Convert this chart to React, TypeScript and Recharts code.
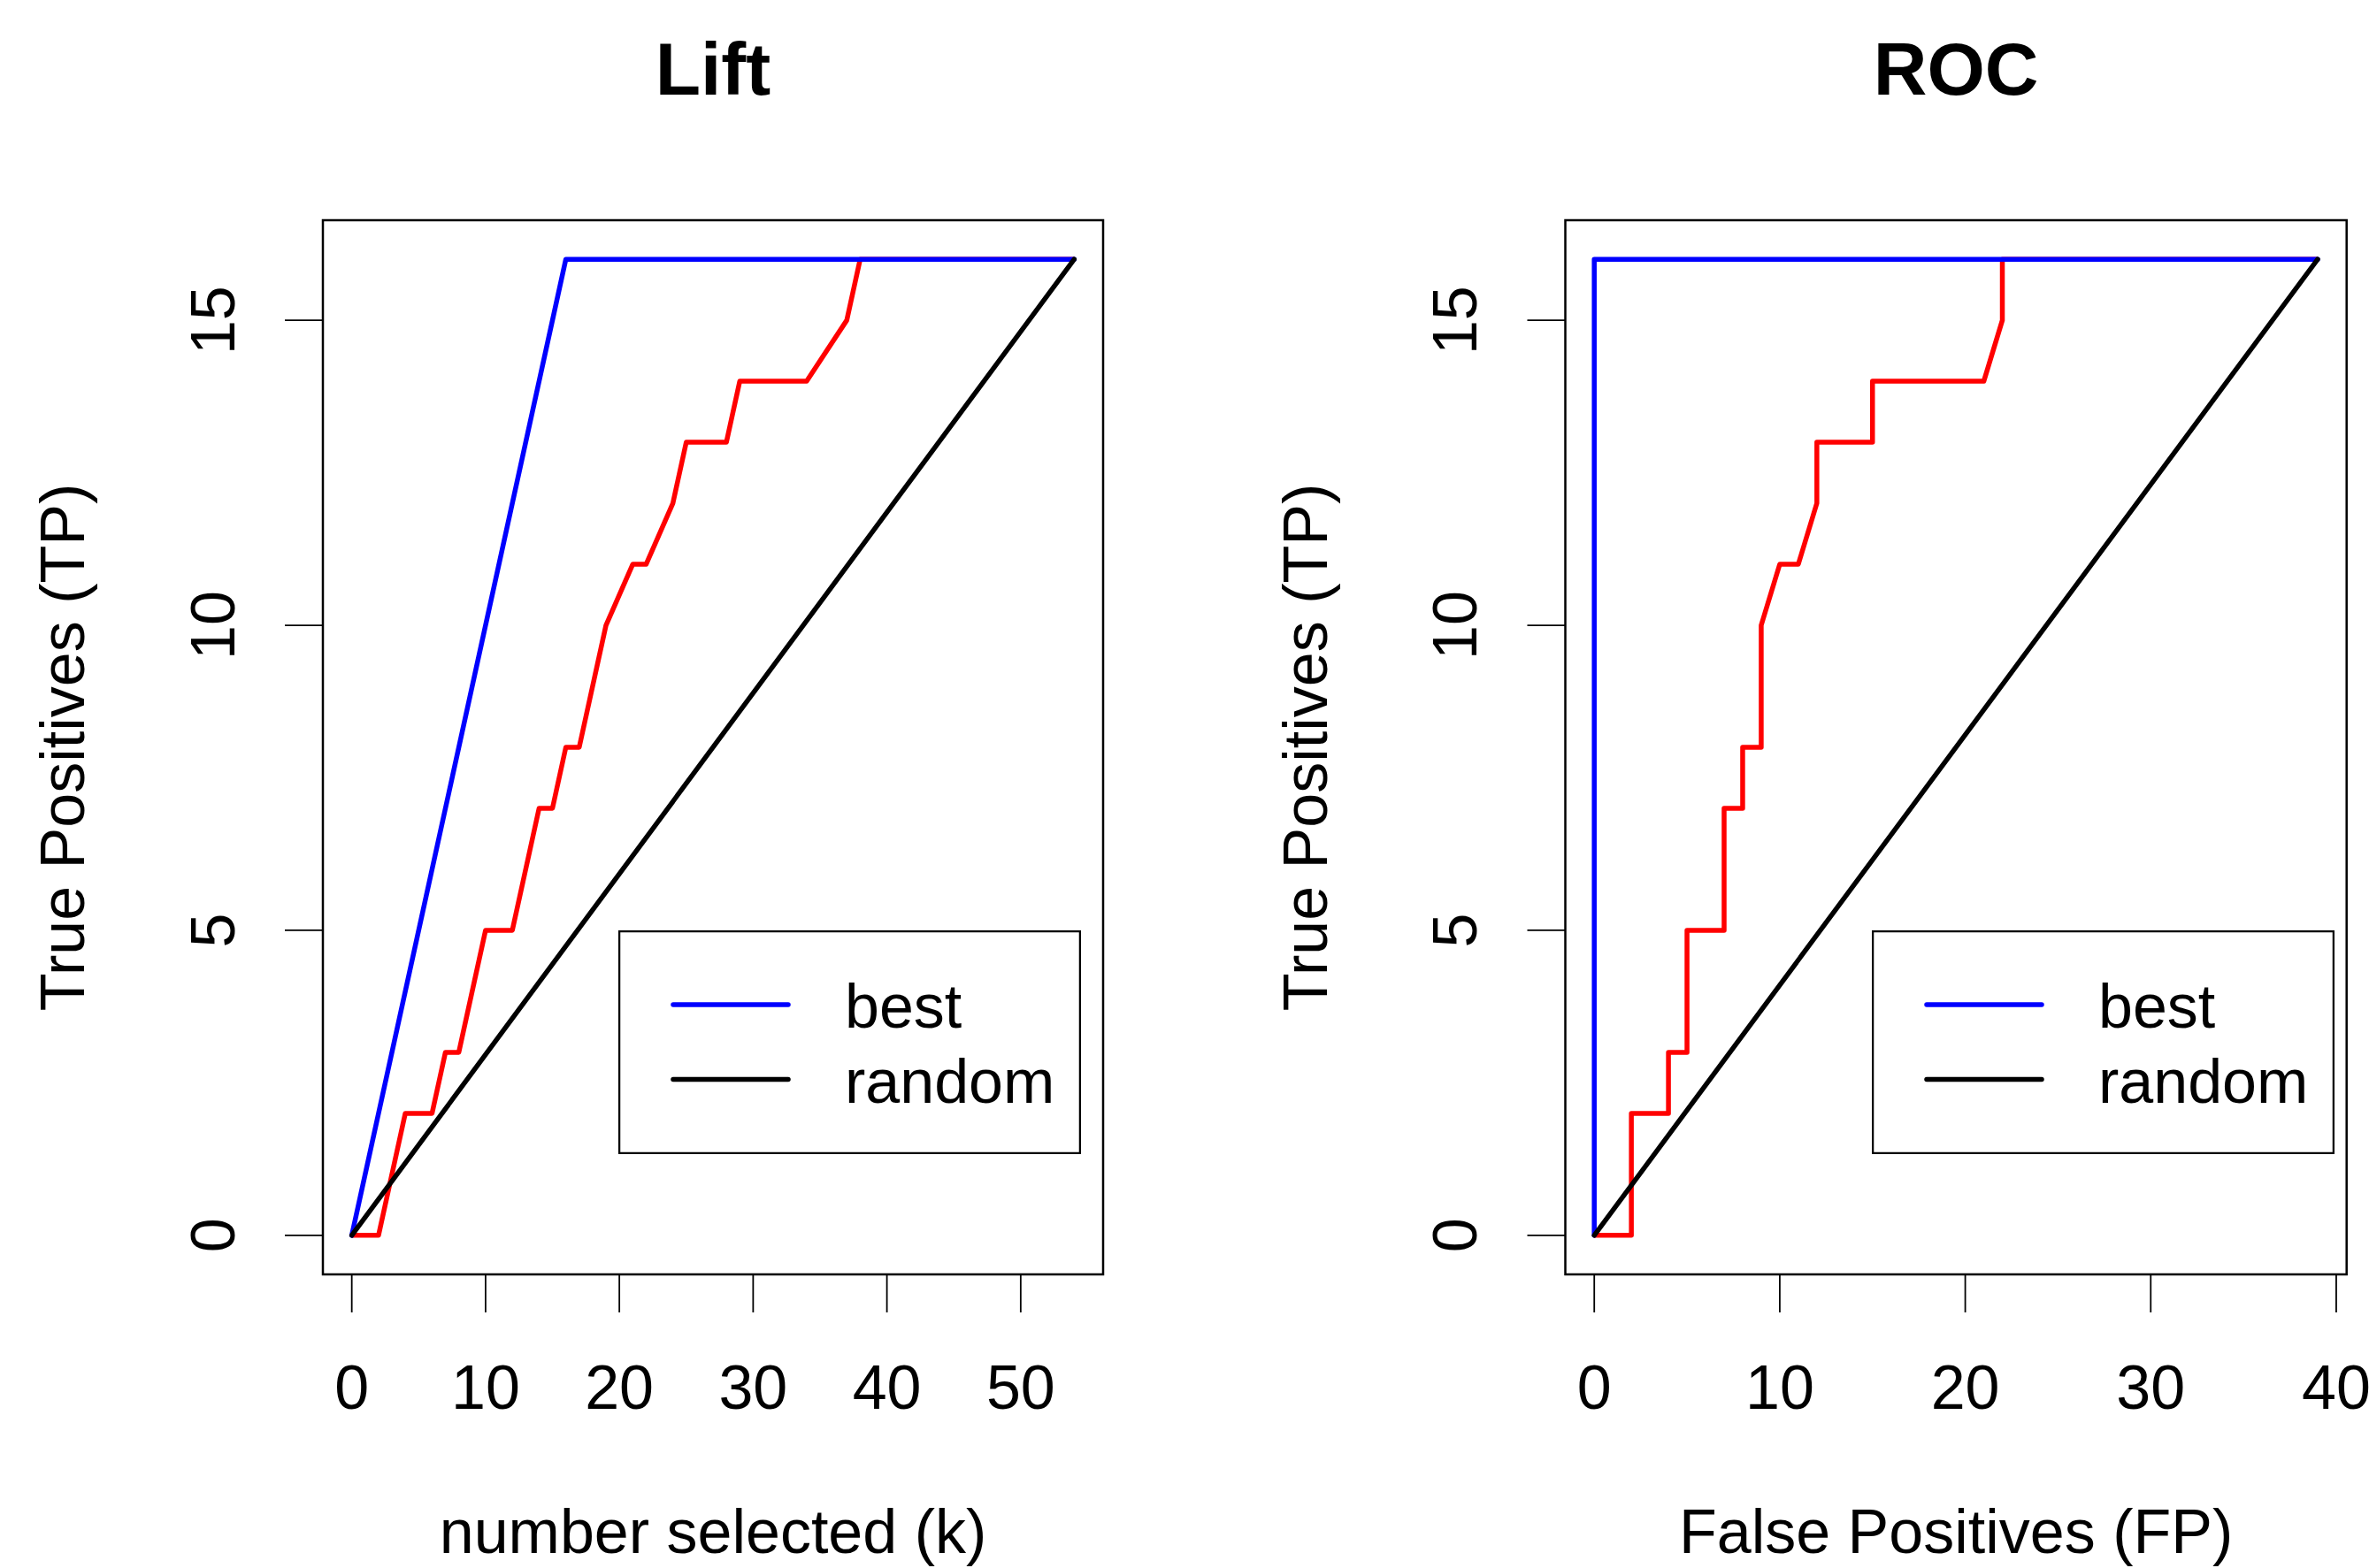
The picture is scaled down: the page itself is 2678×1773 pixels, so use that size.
import { LineChart, Line, XAxis, YAxis, ReferenceArea, Legend } from 'recharts';

// Lift: k selecionados vs verdadeiros positivos
const liftK = [0, 2, 4, 6, 7, 8, 10, 12, 14, 15, 16, 17, 19, 21, 22, 24, 25, 28, 29, 34, 37, 38, 54];
const liftTP = [0, 0, 2, 2, 3, 3, 5, 5, 7, 7, 8, 8, 10, 11, 11, 12, 13, 13, 14, 14, 15, 16, 16];
const liftBestK = [0, 16, 54];
const liftBestTP = [0, 16, 16];
const liftRandomK = [0, 54];
const liftRandomTP = [0, 16];

// ROC: falsos positivos vs verdadeiros positivos
const rocFP = [0, 2, 2, 4, 4, 5, 5, 7, 7, 8, 8, 9, 9, 10, 11, 12, 12, 15, 15, 21, 22, 22, 39];
const rocTP = [0, 0, 2, 2, 3, 3, 5, 5, 7, 7, 8, 8, 10, 11, 11, 12, 13, 13, 14, 14, 15, 16, 16];
const rocBestFP = [0, 0, 39];
const rocBestTP = [0, 16, 16];
const rocRandomFP = [0, 39];
const rocRandomTP = [0, 16];

const liftTicks = [0, 10, 20, 30, 40, 50];
const rocTicks = [0, 10, 20, 30, 40];
const tpTicks = [0, 5, 10, 15];

const FONT = '"Liberation Sans", Arial, Helvetica, sans-serif';
const PANEL_W = 1339;
const H = 1773;
const BOX_TOP = 249;
const BOX_BOTTOM = 1441;
const LW = 5.5;

// R estende o eixo 4% de cada lado
const rRange = (lo: number, hi: number): [number, number] => {
    const pad = (hi - lo) * 0.04;
    return [lo - pad, hi + pad];
};

const zip = (xs: number[], ys: number[]) => xs.map((x, i) => ({ x, y: ys[i] }));

const XTick = ({ x, y, payload }: any) => (
    <text x={x} y={y + 50} textAnchor="middle" fontSize={70} fontFamily={FONT} fill="#000">
        {payload.value}
    </text>
);

const YTick = ({ x, y, payload }: any) => (
    <text
        x={x}
        y={y}
        transform={`rotate(-90 ${x} ${y})`}
        textAnchor="middle"
        fontSize={70}
        fontFamily={FONT}
        fill="#000"
    >
        {payload.value}
    </text>
);

const LegendBox = ({ payload }: any) => {
    const items = (payload || []).filter((p: any) => p.type !== 'none');
    return (
        <svg width={523} height={253} style={{ display: 'block' }}>
            <rect x={1} y={1} width={521} height={251} fill="none" stroke="#000" strokeWidth={2.5} />
            {items.map((p: any, i: number) => (
                <g key={p.value}>
                    <line
                        x1={62}
                        x2={192}
                        y1={84 + i * 84.5}
                        y2={84 + i * 84.5}
                        stroke={p.color}
                        strokeWidth={LW}
                        strokeLinecap="round"
                    />
                    <text x={256} y={110 + i * 84.5} fontSize={70} fontFamily={FONT} fill="#000">
                        {p.value}
                    </text>
                </g>
            ))}
        </svg>
    );
};

interface PanelProps {
    left: number;
    boxLeft: number;
    boxRight: number;
    legendLeft: number;
    title: string;
    xLabel: string;
    xDomain: [number, number];
    xTicks: number[];
    model: { x: number; y: number }[];
    best: { x: number; y: number }[];
    random: { x: number; y: number }[];
}

function Panel({ left, boxLeft, boxRight, legendLeft, title, xLabel, xDomain, xTicks, model, best, random }: PanelProps) {
    const yDomain = rRange(0, 16);
    const yAxisW = 200;
    const xAxisH = 150;
    const cx = (boxLeft + boxRight) / 2;
    const cy = (BOX_TOP + BOX_BOTTOM) / 2;

    return (
        <div style={{ position: 'absolute', left, top: 0, width: PANEL_W, height: H }}>
            <LineChart
                width={PANEL_W}
                height={H}
                margin={{
                    top: BOX_TOP,
                    right: PANEL_W - boxRight,
                    bottom: H - BOX_BOTTOM - xAxisH,
                    left: boxLeft - yAxisW,
                }}
            >
                <XAxis
                    type="number"
                    dataKey="x"
                    domain={xDomain}
                    allowDataOverflow
                    ticks={xTicks}
                    interval={0}
                    height={xAxisH}
                    axisLine={false}
                    tickSize={43}
                    tickMargin={59}
                    tickLine={{ stroke: '#000', strokeWidth: 1.8 }}
                    tick={<XTick />}
                />
                <YAxis
                    type="number"
                    dataKey="y"
                    domain={yDomain}
                    allowDataOverflow
                    ticks={tpTicks}
                    interval={0}
                    width={yAxisW}
                    axisLine={false}
                    tickSize={43}
                    tickMargin={57}
                    tickLine={{ stroke: '#000', strokeWidth: 1.8 }}
                    tick={<YTick />}
                />
                <ReferenceArea
                    x1={xDomain[0]}
                    x2={xDomain[1]}
                    y1={yDomain[0]}
                    y2={yDomain[1]}
                    fill="none"
                    stroke="#000"
                    strokeWidth={2.5}
                    ifOverflow="visible"
                />
                <Line
                    data={model}
                    dataKey="y"
                    name="model"
                    type="linear"
                    stroke="#ff0000"
                    strokeWidth={LW}
                    strokeLinejoin="round"
                    dot={false}
                    legendType="none"
                    isAnimationActive={false}
                />
                <Line
                    data={best}
                    dataKey="y"
                    name="best"
                    type="linear"
                    stroke="#0000ff"
                    strokeWidth={LW}
                    strokeLinejoin="round"
                    strokeLinecap="round"
                    dot={false}
                    isAnimationActive={false}
                />
                <Line
                    data={random}
                    dataKey="y"
                    name="random"
                    type="linear"
                    stroke="#000000"
                    strokeWidth={LW}
                    strokeLinecap="round"
                    dot={false}
                    isAnimationActive={false}
                />
                <Legend
                    layout="vertical"
                    align="center"
                    verticalAlign="middle"
                    content={<LegendBox />}
                    wrapperStyle={{ left: legendLeft, top: 1052, width: 523, height: 253 }}
                />
            </LineChart>
            <svg
                width={PANEL_W}
                height={H}
                style={{ position: 'absolute', left: 0, top: 0, pointerEvents: 'none' }}
            >
                <text x={cx} y={107} textAnchor="middle" fontSize={84} fontWeight="bold" fontFamily={FONT}>
                    {title}
                </text>
                <text x={cx} y={1756} textAnchor="middle" fontSize={70} fontFamily={FONT}>
                    {xLabel}
                </text>
                <text
                    transform={`translate(${boxLeft - 270} ${cy}) rotate(-90)`}
                    textAnchor="middle"
                    fontSize={70}
                    fontFamily={FONT}
                >
                    True Positives (TP)
                </text>
            </svg>
        </div>
    );
}

export default function App() {
    return (
        <div style={{ position: 'absolute', left: 0, top: 0, width: 2678, height: H, background: '#fff' }}>
            <Panel
                left={0}
                boxLeft={365}
                boxRight={1247}
                legendLeft={699}
                title="Lift"
                xLabel="number selected (k)"
                xDomain={rRange(0, 54)}
                xTicks={liftTicks}
                model={zip(liftK, liftTP)}
                best={zip(liftBestK, liftBestTP)}
                random={zip(liftRandomK, liftRandomTP)}
            />
            <Panel
                left={PANEL_W}
                boxLeft={430.5}
                boxRight={1313.7}
                legendLeft={777}
                title="ROC"
                xLabel="False Positives (FP)"
                xDomain={rRange(0, 39)}
                xTicks={rocTicks}
                model={zip(rocFP, rocTP)}
                best={zip(rocBestFP, rocBestTP)}
                random={zip(rocRandomFP, rocRandomTP)}
            />
        </div>
    );
}
